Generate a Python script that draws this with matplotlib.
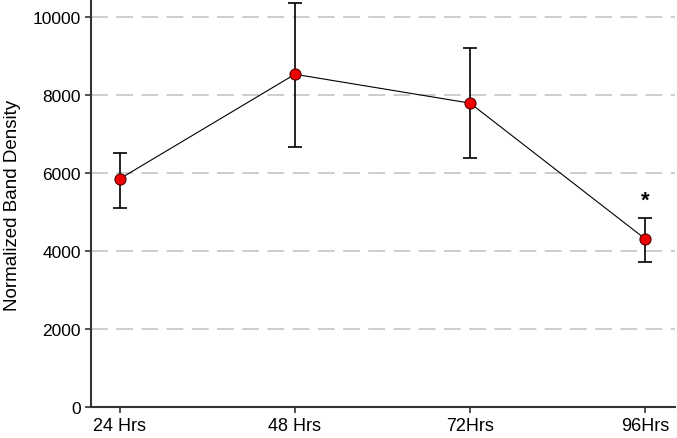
import numpy as np
import matplotlib
matplotlib.use('Agg')
import matplotlib.pyplot as plt

plt.rcParams['font.family'] = ['Liberation Sans', 'DejaVu Sans']

labels = ['24 Hrs', '48 Hrs', '72Hrs', '96Hrs']
density = [5850, 8530, 7790, 4310]
err_low = [750, 1860, 1410, 600]
err_high = [660, 1830, 1410, 540]
grid_vals = [2000, 4000, 6000, 8000, 10000]

fig = plt.figure(figsize=(6.77, 4.39), dpi=100)
ax = fig.add_axes([0.134, 0.0706, 0.863, 0.925])

x = np.arange(len(labels))

for g in grid_vals:
    ax.axhline(g, color='#c0c0c0', lw=1.1, ls=(0, (11, 5.5)), zorder=0)

ax.errorbar(x, density, yerr=[err_low, err_high], fmt='none', ecolor='black',
            elinewidth=1.2, capsize=4.7, capthick=1.2, zorder=2)
ax.plot(x, density, color='black', lw=0.8, marker='o', markersize=8,
        markerfacecolor='#ee0000', markeredgecolor='#550000', markeredgewidth=0.8,
        zorder=3)

ax.text(x[3], density[3] + err_high[3] + 450, '*', ha='center', va='center',
        fontsize=16, fontweight='bold')

ax.set_xlim(-0.166, 3.17)
ax.set_ylim(0, 10410)
ax.set_xticks(x)
ax.set_xticklabels(labels)
ax.set_yticks([0, 2000, 4000, 6000, 8000, 10000])
ax.tick_params(length=4, width=1.2, color='#333333', pad=3)
ax.tick_params(axis='x', labelsize=13)
ax.tick_params(axis='y', labelsize=12.5)
ax.set_ylabel('Normalized Band Density', fontsize=13.5)
ax.yaxis.set_label_coords(-0.12, 0.5)

for side in ['top', 'right']:
    ax.spines[side].set_visible(False)
for side in ['left', 'bottom']:
    ax.spines[side].set_linewidth(1.5)
    ax.spines[side].set_color('#333333')

fig.savefig('out.png', dpi=100)
